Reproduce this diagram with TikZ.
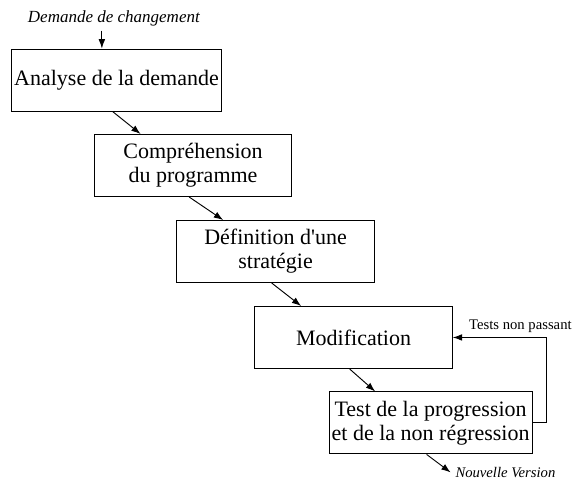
\documentclass[tikz,border=0pt]{standalone}
\usepackage{fontspec}
\setmainfont{Liberation Serif}
\usetikzlibrary{arrows.meta,positioning}
\tikzset{
  basic/.style   = {draw, line width=0.7pt, rectangle},
  etape/.style   = {basic, align=center, minimum width=148pt, minimum height=46.5pt,
                    inner xsep=2pt, font=\fontsize{16.5}{18}\selectfont},
  legende/.style = {font=\fontsize{11}{13}\selectfont},
  entree/.style  = {font=\fontsize{12.75}{15}\selectfont\itshape},
  sortie/.style  = {font=\fontsize{11}{13}\selectfont\itshape}
}

\begin{document}
\begin{tikzpicture}[>={Latex[length=7pt,width=5pt]}, line width=0.7pt]
\useasboundingbox (0,0) rectangle (432.75pt,-360pt);

% etapes du processus
\node[etape] (c1) at (87.4pt,-60pt) {Analyse de la demande};
\node[etape, below of=c1, node distance=64.1pt, xshift=57.4pt] (c2) {Compréhension\\du programme};
\node[etape, below of=c2, node distance=64.5pt, xshift=61.9pt] (c3) {Définition d\textquotesingle une\\stratégie};
\node[etape, below of=c3, node distance=64.5pt, xshift=58.5pt] (c4) {Modification};
\node[etape, below of=c4, node distance=64.1pt, xshift=57.75pt] (c5) {Test de la progression\\et de la non régression};

% entree et sortie
\node[entree, above=13.5pt of c1, xshift=-2pt] (demande) {Demande de changement};
\node[sortie, anchor=west] (version) at ([shift={(15pt,-13.5pt)}]c5.south) {Nouvelle Version};

\draw[->] ([xshift=-9pt]demande.south) -- ([xshift=-9pt]demande.south |- c1.north);

\foreach \a/\b in {c1/c2,c2/c3,c3/c4,c4/c5}
  \draw[->] ([xshift=-3pt]\a.south) -- ([xshift=35pt]\b.north west);

\draw[->] ([xshift=-3pt]c5.south) -- (version.west);

% retour si les tests echouent
\draw[->] (c5.east) -- ++(10.3pt,0) |- node[legende, above, xshift=-19.5pt] {Tests non passant} (c4.east);
\end{tikzpicture}
\end{document}
